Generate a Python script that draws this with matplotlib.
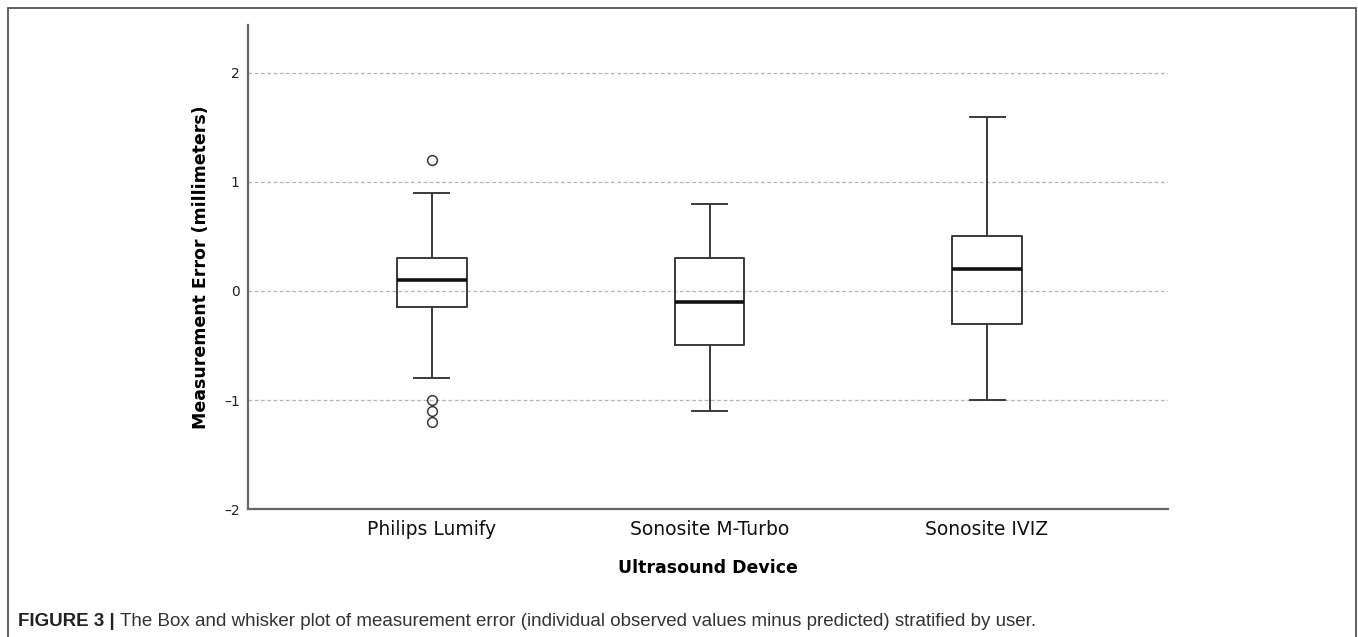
import matplotlib
matplotlib.use("Agg")
import matplotlib.pyplot as plt
from matplotlib.patches import Rectangle

# --- data ---
devices = ["Philips Lumify", "Sonosite M-Turbo", "Sonosite IVIZ"]
whislo = [-0.8, -1.1, -1.0]
q1 = [-0.15, -0.5, -0.3]
med = [0.1, -0.1, 0.2]
q3 = [0.3, 0.3, 0.5]
whishi = [0.9, 0.8, 1.6]
fliers = [[1.2, -1.0, -1.1, -1.2], [], []]

y_ticks = [-2, -1, 0, 1, 2]

stats = []
for i, name in enumerate(devices):
    stats.append({"label": name, "whislo": whislo[i], "q1": q1[i], "med": med[i],
                  "q3": q3[i], "whishi": whishi[i], "fliers": fliers[i]})

fig = plt.figure(figsize=(13.58, 6.37), dpi=100)
ax = fig.add_axes([0.1826, 0.2009, 0.6775, 0.7599])

line_col = "#3a3a3a"
ax.bxp(stats, positions=[1, 2, 3], widths=0.252, showfliers=True,
       boxprops=dict(color=line_col, linewidth=1.4),
       whiskerprops=dict(color=line_col, linewidth=1.4),
       capprops=dict(color=line_col, linewidth=1.4),
       medianprops=dict(color="#111111", linewidth=2.6),
       flierprops=dict(marker="o", markersize=7, markerfacecolor="none",
                       markeredgecolor=line_col, markeredgewidth=1.1),
       zorder=3)

ax.set_xlim(0.337, 3.652)
ax.set_ylim(-2, 2.44)
ax.set_yticks(y_ticks)
ax.set_yticklabels([str(v).replace("-", "\u2013") for v in y_ticks], fontsize=10, color="#222222")
ax.tick_params(axis="both", length=0)
ax.tick_params(axis="y", pad=6)
ax.tick_params(axis="x", pad=8, labelsize=13.5, labelcolor="#111111")

for y in y_ticks[1:]:
    ax.axhline(y, color="#b5b5b5", linestyle=(0, (3, 2)), linewidth=0.9, zorder=1)

for s in ["top", "right"]:
    ax.spines[s].set_visible(False)
for s in ["left", "bottom"]:
    ax.spines[s].set_color("#666666")
    ax.spines[s].set_linewidth(1.6)

ax.set_ylabel("Measurement Error (millimeters)", fontsize=12.5, fontweight="bold", labelpad=10)
ax.set_xlabel("Ultrasound Device", fontsize=12.5, fontweight="bold", labelpad=14)

# outer figure frame
fig.patches.append(Rectangle((8 / 1358, -0.01), 1348 / 1358, 1.01 - 8 / 637,
                             transform=fig.transFigure, fill=False,
                             edgecolor="#555555", linewidth=1.3))

# caption: bold label, then the rest placed right after it
cap1 = fig.text(18 / 1358, 1 - 621 / 637, "FIGURE 3 |", fontsize=13.5, fontweight="bold",
                family="Liberation Sans", va="center", color="#222222")
ax.annotate("The Box and whisker plot of measurement error (individual observed values minus predicted) stratified by user.",
            xy=(1, 0.5), xycoords=cap1, xytext=(4, 0), textcoords="offset points",
            fontsize=13.5, family="Liberation Sans", va="center", color="#333333",
            annotation_clip=False)

fig.savefig("out.png", dpi=100)
